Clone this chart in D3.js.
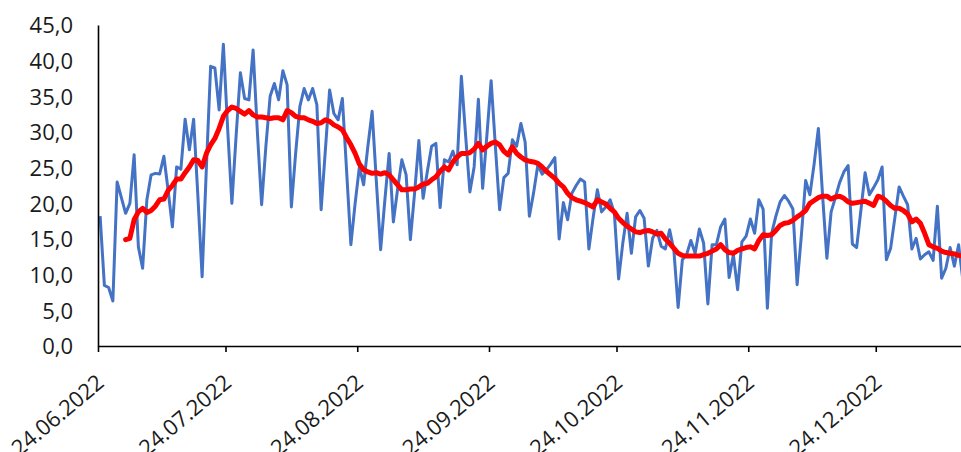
<!DOCTYPE html>
<html>
<head>
<meta charset="utf-8">
<script src="https://cdn.jsdelivr.net/npm/d3@7"></script>
<style>
  html, body { margin: 0; padding: 0; background: #fff; }
  svg { display: block; }
  .lbl { font-family: "Open Sans", sans-serif; font-size: 22px; fill: #1a1a1a; }
</style>
</head>
<body>
<svg id="chart" width="961" height="452"></svg>
<script>
// ---- data (daily values starting 24.06.2022) ----
const startDate = "2022-06-24";
const dailyValues = [
  18.2, 8.5, 8.2, 6.3, 23.0, 20.8, 18.6, 20.0, 26.8, 13.9,
  10.9, 20.5, 24.0, 24.2, 24.1, 26.6, 21.8, 16.7, 25.1, 24.8,
  31.8, 27.5, 31.8, 21.0, 9.7, 25.0, 39.2, 39.0, 33.1, 42.3,
  30.5, 20.0, 29.5, 38.3, 34.7, 34.5, 41.5, 30.0, 19.8, 28.0,
  35.0, 36.8, 34.5, 38.6, 36.6, 19.5, 27.0, 33.6, 36.1, 34.5,
  36.1, 33.8, 19.1, 27.5, 35.9, 32.6, 31.7, 34.7, 24.5, 14.2,
  20.0, 25.1, 22.6, 28.0, 32.9, 23.0, 13.5, 20.5, 27.0, 17.4,
  22.0, 26.1, 24.0, 14.9, 21.5, 28.8, 20.7, 24.5, 28.0, 28.4,
  19.4, 26.1, 25.8, 27.3, 25.4, 37.8, 29.5, 21.6, 25.1, 34.6,
  22.1, 29.5, 37.2, 28.0, 19.1, 23.6, 24.2, 28.9, 28.0, 31.2,
  28.6, 18.2, 21.5, 25.4, 24.1, 24.7, 25.5, 26.4, 15.0, 20.1,
  17.7, 21.4, 22.5, 23.4, 23.0, 13.6, 18.0, 21.9, 18.8, 19.5,
  20.5, 18.6, 9.4, 14.5, 18.6, 13.0, 18.1, 19.0, 17.9, 11.2,
  15.1, 16.2, 14.0, 13.6, 16.3, 13.4, 5.4, 12.1, 12.8, 14.8,
  13.0, 16.4, 14.4, 5.9, 14.2, 14.2, 16.7, 17.8, 9.6, 12.8,
  7.9, 14.6, 15.4, 17.8, 15.8, 20.5, 19.2, 5.3, 15.8, 18.2,
  20.2, 21.1, 20.3, 19.2, 8.6, 15.5, 23.2, 21.2, 25.5, 30.5,
  21.0, 12.3, 18.8, 20.8, 22.9, 24.4, 25.3, 14.3, 13.8, 19.0,
  24.3, 21.2, 22.2, 23.3, 25.1, 12.1, 13.7, 18.0, 22.3, 21.0,
  19.8, 13.6, 15.1, 12.2, 12.8, 13.2, 12.0, 19.6, 9.5, 10.9,
  13.8, 11.2, 14.2, 9.2
];
// moving average line (starts on day index 6)
const maStartIndex = 6;
const movingAvg = [
  14.9, 15.1, 17.7, 18.8, 19.3, 18.7, 19.0, 19.6, 20.5, 20.6,
  21.8, 22.5, 23.4, 23.4, 24.3, 25.1, 26.1, 26.0, 25.1, 27.0,
  28.2, 29.1, 30.5, 32.2, 33.0, 33.5, 33.3, 32.9, 32.5, 33.0,
  32.4, 32.1, 32.1, 32.0, 31.9, 32.0, 32.0, 31.7, 33.0, 32.7,
  32.2, 32.0, 32.0, 31.7, 31.5, 31.2, 31.3, 31.7, 31.5, 31.0,
  30.7, 30.3, 29.2, 28.2, 27.0, 25.5, 24.7, 24.4, 24.2, 24.3,
  24.1, 24.3, 24.0, 23.3, 22.6, 21.9, 21.9, 22.0, 22.0, 22.3,
  22.7, 22.8, 23.3, 23.7, 24.5, 25.1, 24.7, 25.8, 26.5, 27.0,
  27.0, 27.1, 27.6, 28.4, 27.5, 28.0, 28.4, 28.6, 28.2, 27.3,
  26.8, 27.9, 27.0, 26.5, 26.1, 25.9, 25.8, 25.6, 25.1, 24.5,
  24.0, 23.5, 22.8, 22.3, 21.4, 20.8, 20.5, 20.3, 20.1, 19.8,
  19.5, 20.5, 20.2, 19.9, 19.3, 18.8, 17.9, 17.3, 16.8, 16.4,
  16.0, 15.9, 16.1, 16.2, 16.0, 15.7, 15.8, 15.0, 14.4, 13.7,
  13.0, 12.7, 12.6, 12.6, 12.6, 12.6, 12.8, 13.0, 13.3, 13.6,
  14.2, 13.5, 13.1, 13.0, 13.4, 13.6, 13.8, 13.9, 13.6, 14.8,
  15.6, 15.5, 15.6, 16.2, 16.9, 17.2, 17.3, 17.6, 18.1, 18.5,
  19.0, 20.0, 20.4, 20.8, 21.0, 21.0, 20.6, 20.9, 21.0, 20.7,
  20.2, 20.0, 20.1, 20.2, 20.3, 20.0, 19.7, 21.0, 20.8, 20.3,
  19.7, 19.3, 19.3, 19.0, 18.5, 17.4, 17.8, 17.2, 15.8, 14.2,
  13.9, 13.7, 13.3, 13.1, 13.0, 12.9, 12.7, 12.6
];
const xTickLabels = ["24.06.2022", "24.07.2022", "24.08.2022", "24.09.2022", "24.10.2022", "24.11.2022", "24.12.2022"];
const yTicks = [0, 5, 10, 15, 20, 25, 30, 35, 40, 45];

// ---- scales ----
const parse = d3.utcParse("%Y-%m-%d");
const parseLbl = d3.utcParse("%d.%m.%Y");
const t0 = parse(startDate);
const dayDate = i => d3.utcHour.offset(d3.utcDay.offset(t0, i), 12); // mid-day (between tick marks)

const pxPerDay = 4.25;
const nDays = 205;
const x = d3.scaleUtc()
  .domain([t0, d3.utcDay.offset(t0, nDays)])
  .range([98, 98 + nDays * pxPerDay]);
const y = d3.scaleLinear().domain([0, 45]).range([346, 25]);

const svg = d3.select("#chart");

// ---- lines ----
const blueData = dailyValues.map((v, i) => ({ d: dayDate(i), v }));
const redData = movingAvg.map((v, i) => ({ d: dayDate(i + maStartIndex), v }));
const line = d3.line().x(p => x(p.d)).y(p => y(p.v));

svg.append("path").datum(blueData)
  .attr("fill", "none").attr("stroke", "#4472C4").attr("stroke-width", 3)
  .attr("stroke-linejoin", "round").attr("d", line);
svg.append("path").datum(redData)
  .attr("fill", "none").attr("stroke", "#FF0000").attr("stroke-width", 5)
  .attr("stroke-linejoin", "round").attr("stroke-linecap", "round").attr("d", line);

// ---- y axis ----
const yAxis = d3.axisLeft(y).tickValues(yTicks).tickSize(0).tickPadding(25)
  .tickFormat(d => d3.format(".1f")(d).replace(".", ","));
const gy = svg.append("g").attr("transform", "translate(98,0)").call(yAxis);
gy.select(".domain").attr("stroke", "#000").attr("stroke-width", 1.6);
gy.selectAll("text").attr("class", "lbl").attr("dy", "0.35em").attr("font-family", null).attr("font-size", null);

// ---- x axis ----
const xAxis = d3.axisBottom(x).tickValues(xTickLabels.map(s => parseLbl(s)))
  .tickSize(6).tickSizeOuter(0)
  .tickFormat((d, i) => xTickLabels[i]);
const gx = svg.append("g").attr("transform", "translate(0,346)").call(xAxis);
gx.select(".domain").attr("stroke", "#000").attr("stroke-width", 1.6);
gx.selectAll(".tick line").attr("stroke", "#000").attr("stroke-width", 1.6);
gx.selectAll("text")
  .attr("class", "lbl")
  .attr("font-family", null).attr("font-size", null)
  .attr("text-anchor", "end")
  .attr("x", 0).attr("y", 0).attr("dy", 0)
  .attr("transform", "translate(7,39) rotate(-40)");
</script>
</body>
</html>
